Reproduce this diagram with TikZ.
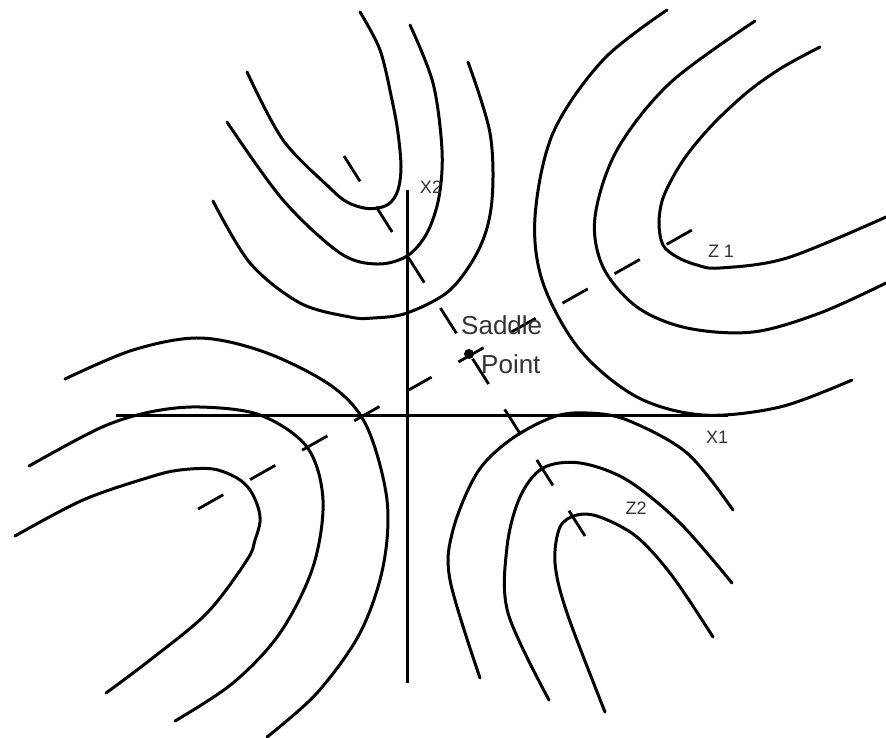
\documentclass[tikz,border=0pt]{standalone}
\usepackage{fontspec}
\setmainfont{Liberation Sans}
\begin{document}
\begin{tikzpicture}[x=1pt,y=-1pt,
  contour/.style={line width=3pt, line cap=round},
  axisline/.style={line width=3pt},
  eigline/.style={line width=2.8pt},
  smalllbl/.style={text=black!80, font=\fontsize{18}{20}\selectfont, inner sep=0pt},
  biglbl/.style={text=black!80, font=\fontsize{26}{28}\selectfont, inner sep=0pt, anchor=west}]
\useasboundingbox (0,0) rectangle (886,737);
% axes
\coordinate (x1a) at (116,415);
\coordinate (x1b) at (728,415);
\coordinate (x2a) at (407,190);
\coordinate (x2b) at (407,683);
\draw[axisline] (x1a) -- (x1b);
\draw[axisline] (x2a) -- (x2b);
% principal directions
\coordinate (z1a) at (198,509);
\coordinate (z1b) at (692,230);
\coordinate (z2a) at (344,156);
\coordinate (z2b) at (585,536);
\draw[eigline, dash pattern=on 29pt off 30.8pt] (z1a) -- (z1b);
\draw[eigline, dash pattern=on 30pt off 30pt] (z2a) -- (z2b);
% top-left group
\draw[contour] plot[smooth,tension=0.55] coordinates {(360,12) (380,50) (392,100) (398,133) (401,167) (398,190) (390,203) (378,208) (364,208) (347,202) (330,188) (283,140) (247,72)};
\draw[contour] plot[smooth,tension=0.55] coordinates {(410,25) (433,83) (442,150) (439,197) (427,233) (407,256) (377,264) (340,253) (283,200) (227,122)};
\draw[contour] plot[smooth,tension=0.55] coordinates {(468,62) (490,133) (492,200) (480,247) (450,290) (407,313) (373,318) (350,317) (300,303) (250,263) (213,201)};
% top-right group
\draw[contour] plot[smooth,tension=0.55] coordinates {(820,47) (783,67) (750,90) (717,120) (693,147) (677,170) (663,198) (659,223) (663,245) (677,257) (697,265) (720,268) (787,258) (886,217)};
\draw[contour] plot[smooth,tension=0.55] coordinates {(755,21) (670,83) (617,150) (595,217) (603,267) (637,307) (687,328) (753,332) (820,313) (886,283)};
\draw[contour] plot[smooth,tension=0.55] coordinates {(667,10) (603,60) (553,133) (535,217) (543,283) (580,350) (637,397) (703,415) (780,407) (852,380)};
% bottom-left group
\draw[contour] plot[smooth,tension=0.55] coordinates {(65,379) (133,350) (200,338) (267,353) (333,387) (367,427) (387,500) (383,567) (360,633) (317,693) (267,737)};
\draw[contour] plot[smooth,tension=0.55] coordinates {(29,466) (100,428) (150,412) (200,407) (260,415) (307,447) (323,500) (313,567) (280,633) (233,683) (175,721)};
\draw[contour] plot[smooth,tension=0.55] coordinates {(15,536) (83,500) (150,477) (180,470) (213,469) (237,478) (250,490) (258,507) (260,522) (255,540) (247,560) (207,613) (150,660) (106,693)};
% bottom-right group
\draw[contour] plot[smooth,tension=0.55] coordinates {(733,510) (687,453) (627,420) (587,413) (553,417) (510,440) (477,473) (453,530) (450,580) (480,678)};
\draw[contour] plot[smooth,tension=0.55] coordinates {(732,583) (680,523) (627,480) (580,463) (543,468) (520,497) (507,547) (508,613) (549,700)};
\draw[contour] plot[smooth,tension=0.55] coordinates {(713,637) (673,577) (637,537) (600,517) (577,515) (560,527) (555,563) (567,613) (605,712)};
% saddle point
\fill (469,354) circle (5pt);
% labels
\node[smalllbl] (lx2) at (431,187) {X2};
\node[smalllbl] (lx1) at (717,437) {X1};
\node[smalllbl] (lz1) at (721,251) {Z 1};
\node[smalllbl] (lz2) at (636,508) {Z2};
\node[biglbl] (lsad) at (461,325) {Saddle};
\node[biglbl] (lpt) at (481,364) {Point};
\end{tikzpicture}
\end{document}
